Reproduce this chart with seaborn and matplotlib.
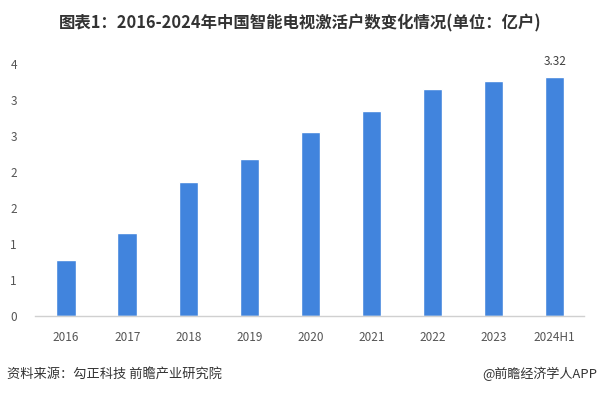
import math
import numpy as np
import pandas as pd
import matplotlib
matplotlib.use("Agg")
import matplotlib.pyplot as plt
from matplotlib.ticker import FuncFormatter, MultipleLocator
import seaborn as sns

categories = ["2016", "2017", "2018", "2019", "2020", "2021", "2022", "2023", "2024H1"]
values = [0.78, 1.15, 1.86, 2.18, 2.55, 2.85, 3.15, 3.26, 3.32]
labeled = {"2024H1": "3.32"}

title = "图表1：2016-2024年中国智能电视激活户数变化情况(单位：亿户)"
source = "资料来源：勾正科技 前瞻产业研究院"
credit = "@前瞻经济学人APP"

sns.set_style("white")
plt.rcParams["font.family"] = ["Noto Sans CJK SC", "DejaVu Sans"]

df = pd.DataFrame({"year": categories, "value": values})

fig = plt.figure(figsize=(6.0, 3.95), dpi=100)
ax = fig.add_axes([35 / 600, 79 / 395, 549 / 600, 252 / 395])

sns.barplot(data=df, x="year", y="value", color="#4184DD", width=0.32,
            saturation=1, ax=ax)

ax.set_xlim(-0.51, 8.48)
ax.set_ylim(0, 3.5)
ax.yaxis.set_major_locator(MultipleLocator(0.5))
ax.yaxis.set_major_formatter(FuncFormatter(lambda v, p: f"{int(math.floor(v + 0.5 + 1e-9))}"))
ax.set_xlabel("")
ax.set_ylabel("")

for s in ["top", "right", "left"]:
    ax.spines[s].set_visible(False)
ax.spines["bottom"].set_color("#D0D0D0")
ax.spines["bottom"].set_linewidth(1.0)

ax.tick_params(axis="y", length=0, pad=13, labelsize=8.5, labelcolor="#555555")
ax.tick_params(axis="x", length=0, pad=11, labelsize=8.5, labelcolor="#555555")

for i, (c, v) in enumerate(zip(categories, values)):
    if c in labeled:
        ax.text(i, v + 0.12, labeled[c], ha="center", va="bottom",
                fontsize=8.5, color="#404040", clip_on=False)

fig.text(0.5, 1 - 23 / 395, title, ha="center", va="center",
         fontsize=11.8, fontweight="bold", color="#333333")
fig.text(7 / 600, 1 - 374 / 395, source, ha="left", va="center",
         fontsize=9.5, color="#333333")
fig.text(597 / 600, 1 - 374 / 395, credit, ha="right", va="center",
         fontsize=9.4, color="#333333")

fig.savefig("out.png", dpi=100)
